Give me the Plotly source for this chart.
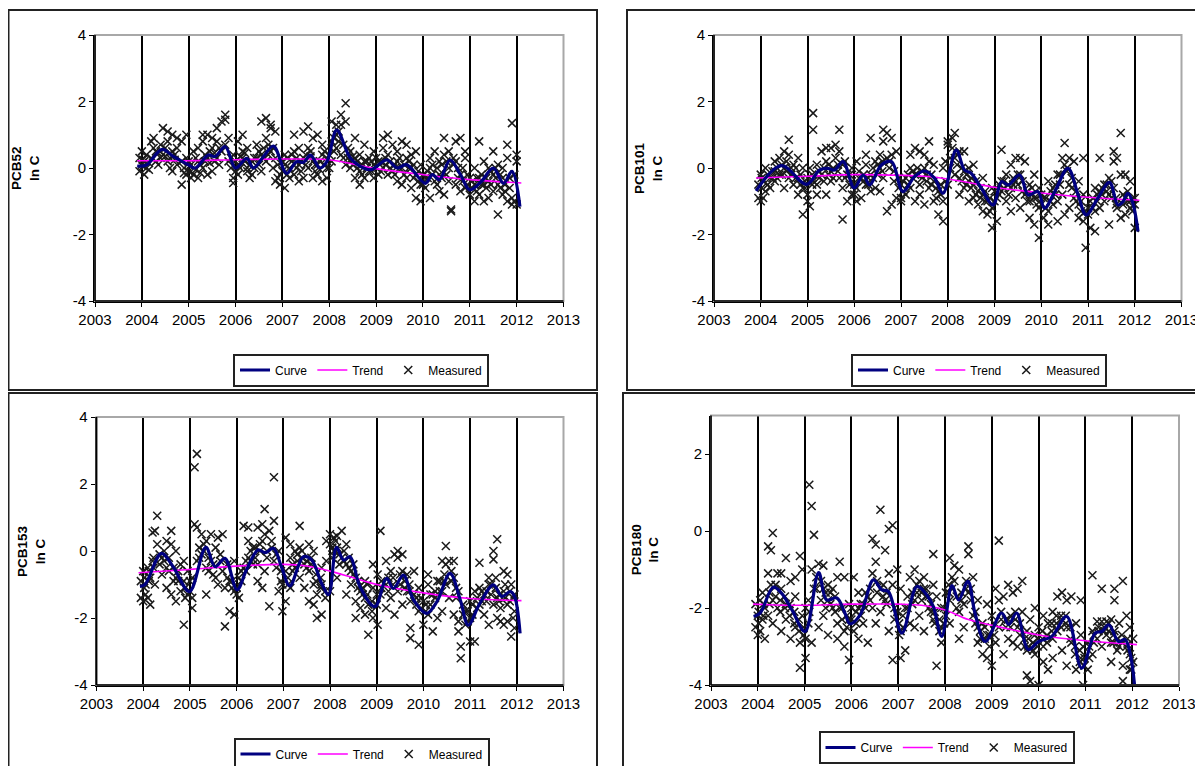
import plotly.graph_objects as go

W, H = 1203, 766

# ---------------- data ----------------
year_ticks = list(range(2003, 2014))
y_ticks = [[-4, -2, 0, 2, 4], [-4, -2, 0, 2, 4], [-4, -2, 0, 2, 4], [-4, -2, 0, 2]]

# PCB52
pcb52_curve_t = [2003.9, 2004.1, 2004.43, 2004.68, 2005.0, 2005.14, 2005.42, 2005.56, 2005.78, 2006.0,
                 2006.24, 2006.38, 2006.6, 2006.81, 2007.09, 2007.3, 2007.45, 2007.6, 2007.8, 2007.95,
                 2008.16, 2008.45, 2008.73, 2008.9, 2009.23, 2009.45, 2009.65, 2010.05, 2010.2, 2010.35,
                 2010.58, 2010.8, 2011.0, 2011.25, 2011.5, 2011.72, 2011.9, 2012.07]
pcb52_curve_v = [0.06, 0.09, 0.56, 0.34, 0.09, 0.0, 0.39, 0.34, 0.64, 0.0,
                 0.29, 0.0, 0.35, 0.66, -0.16, 0.19, 0.17, 0.39, 0.0, 0.19,
                 1.14, 0.3, 0.0, -0.05, 0.24, 0.0, 0.1, -0.46, -0.2, -0.35,
                 0.24, -0.2, -0.66, -0.4, 0.0, -0.46, -0.1, -1.16]
pcb52_trend_t = [2003.9, 2005.0, 2006.0, 2007.0, 2007.5, 2008.0, 2008.5, 2009.0, 2010.0, 2011.0, 2012.1]
pcb52_trend_v = [0.22, 0.22, 0.25, 0.27, 0.27, 0.25, 0.12, -0.02, -0.2, -0.35, -0.45]
pcb52_measured = [
    (2003.95, [0.3, -0.1]), (2004.0, [0.5, 0.1]), (2004.05, [-0.2, 0.2]), (2004.1, [0.4, 0.0]),
    (2004.2, [0.8, 0.3]), (2004.25, [0.9, 0.6]), (2004.3, [0.5, 0.2]), (2004.4, [0.7, 0.3]),
    (2004.45, [1.2, 0.4]), (2004.55, [1.1, 0.8, 0.2]), (2004.65, [1.0, 0.5, -0.1]),
    (2004.75, [0.9, 0.1, 0.6]), (2004.85, [-0.5, 0.2, 0.8]), (2004.95, [1.0, -0.2, 0.3]),
    (2005.05, [-0.3, 0.1, -0.1]), (2005.1, [0.5, -0.2]), (2005.2, [0.2, -0.3, 0.6]),
    (2005.3, [0.8, 0.0, 1.0]), (2005.4, [1.0, 0.3, -0.2]), (2005.5, [0.9, 0.6, -0.1]),
    (2005.6, [1.2, 0.3, 0.8]), (2005.7, [1.4, 0.5]), (2005.78, [1.6, 1.45, 0.7]),
    (2005.85, [0.2, 0.9]), (2005.95, [-0.45, -0.3, 0.4]), (2006.05, [0.8, 0.1, -0.2]),
    (2006.15, [1.0, 0.5, 0.3]), (2006.25, [0.0, 0.6, -0.1]), (2006.35, [0.2, -0.2]),
    (2006.45, [0.3, 0.7]), (2006.55, [-0.1, 0.4, 1.4]), (2006.65, [1.5, 0.9, 0.2]),
    (2006.75, [1.2, 1.3, 0.5]), (2006.85, [-0.4, 0.3, 1.1]), (2006.95, [-0.5, -0.2]),
    (2007.05, [-0.6, 0.1, 0.4]), (2007.15, [0.0, -0.3]), (2007.25, [0.5, -0.2, 1.0]),
    (2007.35, [0.1, -0.4, 0.6]), (2007.45, [1.1, 0.3, -0.3]), (2007.55, [1.25, 0.6, 0.0]),
    (2007.65, [0.9, 0.2, -0.3]), (2007.75, [1.0, 0.1, -0.2]), (2007.85, [0.4, -0.4, 0.7]),
    (2007.95, [0.0, 0.3, -0.3]), (2008.05, [1.4, 0.8, 0.2]), (2008.15, [1.3, 1.0, 0.6]),
    (2008.25, [1.6, 1.3, 0.4]), (2008.35, [1.95, 1.4, 0.1]), (2008.45, [0.5, 0.2, 0.0]),
    (2008.55, [0.9, 0.3, -0.3]), (2008.65, [0.4, -0.1, -0.5]), (2008.75, [0.7, 0.2, -0.3]),
    (2008.85, [0.3, -0.1]), (2008.95, [0.1, -0.3, 0.5]), (2009.05, [0.2, -0.2]),
    (2009.15, [0.6, 0.0, 0.9]), (2009.25, [1.0, 0.4, -0.2]), (2009.35, [0.7, -0.1]),
    (2009.45, [0.2, -0.4, 0.5]), (2009.55, [0.8, 0.0, -0.5]), (2009.65, [0.7, -0.3, 0.3]),
    (2009.75, [0.4, -0.6, 0.0]), (2009.85, [-0.9, -0.2, 0.5]), (2009.95, [-1.0, -0.5, 0.1]),
    (2010.05, [-0.6, -0.3]), (2010.15, [-0.9, 0.0, 0.3]), (2010.25, [-0.4, 0.5]),
    (2010.35, [-0.7, 0.2, -0.2]), (2010.45, [0.9, 0.4, -0.8]), (2010.55, [0.5, 0.0, -0.4]),
    (2010.6, [-1.3, -1.25]), (2010.7, [0.8, 0.2, -0.5]), (2010.8, [0.9, -0.2, -0.7]),
    (2010.9, [0.3, -0.6, 0.5]), (2011.0, [-0.8, -0.3]), (2011.1, [-0.5, 0.0, -1.0]),
    (2011.2, [0.8, -0.8, -0.3]), (2011.3, [-1.0, -0.5, 0.2]), (2011.4, [-0.9, 0.0, -0.4]),
    (2011.5, [0.5, -0.2, -0.7]), (2011.6, [-1.4, -0.5, 0.1]), (2011.7, [-0.8, 0.0, -0.3]),
    (2011.8, [0.7, -1.0, 0.3]), (2011.9, [1.35, -1.1, -0.9]), (2012.0, [0.4, 0.2, -1.1]),
]
pcb52_measured_more = [
    (2004.02, [0.05, 0.25]), (2004.15, [0.15, -0.05]), (2004.35, [0.45, 0.1]), (2004.5, [0.6, 0.35]),
    (2004.6, [0.3, 0.0]), (2004.7, [0.25, 0.4]), (2004.9, [0.0, -0.15]), (2005.0, [0.2, -0.1]),
    (2005.15, [-0.05, 0.3]), (2005.25, [0.1, -0.15]), (2005.35, [0.4, 0.2]), (2005.45, [0.5, 0.15]),
    (2005.55, [0.2, 0.45]), (2005.65, [0.6, 0.1]), (2005.9, [0.3, 0.0]), (2006.0, [0.2, -0.1]),
    (2006.1, [0.35, 0.0]), (2006.2, [0.2, 0.45]), (2006.3, [0.1, -0.3]), (2006.4, [0.0, 0.3]),
    (2006.5, [0.5, 0.1]), (2006.6, [0.3, 0.6]), (2006.7, [0.7, 0.4]), (2006.8, [0.6, 0.0]),
    (2006.9, [0.1, -0.3]), (2007.0, [-0.1, 0.2]), (2007.1, [-0.2, 0.3]), (2007.2, [0.2, 0.4]),
    (2007.3, [0.3, 0.0]), (2007.4, [0.2, -0.1]), (2007.5, [0.4, 0.1]), (2007.6, [0.5, 0.35]),
    (2007.7, [0.1, -0.1]), (2007.8, [0.2, -0.05]), (2007.9, [0.1, 0.5]), (2008.0, [0.4, 0.0]),
    (2008.1, [0.9, 0.5]), (2008.2, [0.8, 1.1]), (2008.3, [0.7, 0.3]), (2008.4, [0.6, 0.3]),
    (2008.5, [0.35, 0.1]), (2008.6, [0.2, 0.0]), (2008.7, [0.1, -0.2]), (2008.8, [0.0, 0.2]),
    (2008.9, [-0.1, 0.2]), (2009.0, [0.0, 0.3]), (2009.1, [0.2, -0.1]), (2009.2, [0.3, 0.1]),
    (2009.3, [0.2, 0.0]), (2009.4, [0.1, -0.2]), (2009.5, [0.0, 0.3]), (2009.6, [0.1, -0.2]),
    (2009.7, [0.0, 0.2]), (2009.8, [-0.3, 0.1]), (2009.9, [-0.4, -0.1]), (2010.0, [-0.2, -0.5]),
    (2010.1, [-0.3, -0.1]), (2010.2, [-0.2, 0.1]), (2010.3, [-0.5, 0.0]), (2010.4, [-0.3, 0.1]),
    (2010.5, [0.2, -0.2]), (2010.65, [0.1, 0.3]), (2010.75, [0.0, -0.3]), (2010.85, [-0.4, 0.0]),
    (2010.95, [-0.5, -0.2]), (2011.05, [-0.6, -0.4]), (2011.15, [-0.3, -0.7]), (2011.25, [-0.5, -0.2]),
    (2011.35, [-0.3, -0.6]), (2011.45, [-0.1, -0.5]), (2011.55, [-0.3, 0.0]), (2011.65, [-0.6, -0.2]),
    (2011.75, [-0.5, -0.7]), (2011.85, [-0.3, -0.6]), (2011.95, [-0.2, -1.0]),
]

# PCB101
pcb101_curve_t = [2003.9, 2004.44, 2004.98, 2005.26, 2005.43, 2005.58, 2005.76, 2006.0, 2006.19, 2006.33,
                  2006.58, 2006.8, 2007.04, 2007.29, 2007.5, 2007.72, 2007.9, 2008.18, 2008.36, 2008.5,
                  2008.72, 2008.97, 2009.15, 2009.29, 2009.54, 2009.72, 2009.93, 2010.07, 2010.29, 2010.57,
                  2010.79, 2010.96, 2011.21, 2011.46, 2011.64, 2011.75, 2011.85, 2011.95, 2012.07]
pcb101_curve_v = [-0.69, 0.07, -0.49, -0.06, -0.01, -0.06, 0.19, -0.6, -0.21, -0.51,
                  0.09, 0.19, -0.71, -0.26, -0.09, -0.31, -0.76, 0.54, -0.06, -0.16,
                  -0.61, -1.11, -0.41, -0.51, -0.21, -0.81, -0.71, -1.21, -0.71, -0.01,
                  -0.81, -1.41, -0.91, -0.43, -1.11, -1.01, -0.76, -1.01, -1.91]
pcb101_trend_t = [2003.9, 2005.0, 2006.0, 2007.0, 2007.5, 2008.0, 2008.5, 2009.0, 2010.0, 2011.0, 2012.1]
pcb101_trend_v = [-0.3, -0.25, -0.2, -0.22, -0.25, -0.33, -0.45, -0.58, -0.75, -0.88, -0.97]
pcb101_measured = [
    (2003.95, [-0.9, -0.5]), (2004.0, [-1.0, -0.2]), (2004.05, [-0.9, -0.4]), (2004.1, [-0.7, 0.0]),
    (2004.2, [-0.3, -0.6]), (2004.3, [0.2, -0.4, -0.1]), (2004.4, [0.3, -0.2]),
    (2004.5, [0.5, 0.0, -0.6]), (2004.6, [0.85, 0.4, -0.3]), (2004.7, [0.1, -0.5]),
    (2004.8, [-0.3, -0.8, 0.3]), (2004.9, [-1.4, -0.6, 0.0]), (2005.0, [-1.0, -0.3, -0.8]),
    (2005.05, [-1.15, 0.0]), (2005.12, [1.65, 1.15, -0.4]), (2005.2, [-0.8, 0.1, -0.5]),
    (2005.3, [0.5, -0.2]), (2005.4, [0.6, 0.2, -0.8]), (2005.5, [0.6, -0.1, -0.4]),
    (2005.6, [0.7, 0.3]), (2005.68, [1.15, 0.5, -0.3]), (2005.75, [-1.55, -0.6, 0.1]),
    (2005.85, [-0.2, -1.0]), (2005.95, [-0.8, -0.4, 0.0]), (2006.05, [-1.0, -0.6, 0.2]),
    (2006.15, [-0.9, -0.3]), (2006.25, [0.4, -0.5, 0.1]), (2006.35, [0.9, -0.2, -0.7]),
    (2006.45, [0.2, -0.6]), (2006.55, [0.4, -0.7, 0.0]), (2006.62, [1.15, 0.8, -0.3]),
    (2006.7, [1.05, -1.3, 0.3]), (2006.8, [0.9, -1.1, 0.4]), (2006.9, [0.5, -0.9]),
    (2007.0, [-1.0, -0.5, -0.9]), (2007.1, [-0.8, -0.3]), (2007.2, [0.0, -0.6, 0.4]),
    (2007.3, [0.6, -0.2, -1.0]), (2007.4, [0.5, -0.5, -0.8]), (2007.5, [0.4, 0.0, -1.1]),
    (2007.6, [0.8, 0.2, -0.6]), (2007.7, [-0.4, -1.0, 0.1]), (2007.8, [-1.4, -0.7]),
    (2007.9, [-1.6, 0.0, -1.0]), (2008.0, [0.8, 0.7, -0.5]), (2008.1, [0.9, 0.6]),
    (2008.15, [1.05, 0.3, -0.2]), (2008.25, [0.5, -0.3, -0.8]), (2008.35, [0.5, -0.1, -0.6]),
    (2008.45, [-0.4, -1.0, 0.0]), (2008.55, [-0.9, -0.5, 0.1]), (2008.65, [-1.1, -0.7]),
    (2008.75, [-0.8, -1.3, -0.3]), (2008.85, [-1.0, -1.4]), (2008.95, [-1.8, -0.6, -1.2]),
    (2009.05, [-1.6, -0.9]), (2009.15, [0.55, -0.4, -0.7]), (2009.25, [-0.2, -1.0]),
    (2009.35, [0.1, -0.6, -1.3]), (2009.45, [0.3, -0.4, -0.9]), (2009.55, [0.3, -0.2, -1.2]),
    (2009.65, [0.2, -0.8]), (2009.75, [-1.5, -0.5, -1.0]), (2009.85, [-1.7, -0.2, -0.9]),
    (2009.95, [-2.1, -1.2, -0.6]), (2010.05, [-0.9, -1.5]), (2010.15, [-1.3, -0.4, -1.7]),
    (2010.25, [-0.6, -1.1]), (2010.35, [-1.6, -0.2, -1.0]), (2010.45, [0.3, -0.8]),
    (2010.5, [0.75, -1.4, 0.1]), (2010.6, [0.3, -0.5, -1.2]), (2010.7, [0.2, -0.9]),
    (2010.8, [-1.5, -0.4, -1.1]), (2010.9, [0.3, -1.6, -0.8]), (2010.95, [-2.4, -1.3]),
    (2011.05, [-1.8, -1.0]), (2011.15, [-1.9, -0.6, -1.3]), (2011.25, [-0.7, -1.2, 0.3]),
    (2011.35, [-0.5, -1.0]), (2011.45, [-0.3, -1.7, -0.8]), (2011.55, [0.2, -0.6, 0.5]),
    (2011.62, [0.3, -1.2]), (2011.7, [1.05, -1.5, -0.2]), (2011.8, [-1.4, -0.2, -0.9]),
    (2011.9, [-1.0, -1.2, -0.4]), (2012.0, [-1.8, -1.1, -0.9]),
]
pcb101_measured_more = [
    (2004.02, [-0.6, -0.3]), (2004.15, [-0.5, -0.2]), (2004.25, [-0.1, -0.3]), (2004.35, [0.0, -0.3]),
    (2004.45, [0.1, -0.2]), (2004.55, [-0.1, 0.2]), (2004.65, [0.0, -0.2]), (2004.75, [-0.3, 0.0]),
    (2004.85, [-0.5, -0.2]), (2004.95, [-0.6, -0.4]), (2005.1, [-0.5, -0.2]), (2005.25, [-0.1, -0.3]),
    (2005.35, [0.0, -0.4]), (2005.45, [-0.2, 0.1]), (2005.55, [0.0, -0.3]), (2005.65, [0.1, -0.1]),
    (2005.8, [0.2, -0.3]), (2005.9, [-0.5, -0.2]), (2006.0, [-0.5, -0.8]), (2006.1, [-0.3, -0.1]),
    (2006.2, [-0.2, -0.4]), (2006.3, [-0.5, -0.3]), (2006.4, [-0.3, 0.0]), (2006.5, [0.1, -0.2]),
    (2006.6, [0.2, -0.1]), (2006.75, [0.2, 0.0]), (2006.85, [-0.1, -0.4]), (2006.95, [-0.6, -0.3]),
    (2007.05, [-0.7, -0.4]), (2007.15, [-0.5, -0.2]), (2007.25, [-0.3, -0.1]), (2007.35, [-0.2, 0.0]),
    (2007.45, [-0.1, -0.3]), (2007.55, [-0.2, -0.4]), (2007.65, [-0.5, -0.2]), (2007.75, [-0.6, -0.9]),
    (2007.85, [-0.5, -0.8]), (2007.95, [-0.4, 0.2]), (2008.05, [0.3, 0.0]), (2008.2, [0.4, 0.1]),
    (2008.3, [0.0, -0.4]), (2008.4, [-0.2, -0.5]), (2008.5, [-0.3, -0.6]), (2008.6, [-0.4, -0.8]),
    (2008.7, [-0.6, -0.9]), (2008.8, [-0.7, -1.0]), (2008.9, [-0.9, -1.3]), (2009.0, [-1.0, -0.7]),
    (2009.1, [-0.5, -0.8]), (2009.2, [-0.4, -0.6]), (2009.3, [-0.5, -0.8]), (2009.4, [-0.3, -0.5]),
    (2009.5, [-0.2, -0.5]), (2009.6, [-0.4, -0.7]), (2009.7, [-0.7, -1.0]), (2009.8, [-0.8, -0.6]),
    (2009.9, [-0.9, -1.1]), (2010.0, [-1.1, -0.8]), (2010.1, [-1.2, -0.9]), (2010.2, [-1.0, -0.7]),
    (2010.3, [-0.8, -0.5]), (2010.4, [-0.5, -0.2]), (2010.55, [-0.1, 0.0]), (2010.65, [-0.3, -0.6]),
    (2010.75, [-0.7, -1.0]), (2010.85, [-1.0, -1.3]), (2011.0, [-1.4, -1.2]), (2011.1, [-1.2, -0.9]),
    (2011.2, [-1.0, -0.8]), (2011.3, [-0.8, -0.6]), (2011.4, [-0.5, -0.7]), (2011.5, [-0.4, -0.9]),
    (2011.6, [-0.9, -1.1]), (2011.75, [-1.1, -0.8]), (2011.85, [-0.7, -1.0]), (2011.95, [-0.9, -1.3]),
]

# PCB153
pcb153_curve_t = [2003.93, 2004.04, 2004.39, 2004.64, 2004.99, 2005.34, 2005.54, 2005.75, 2006.01, 2006.21,
                  2006.46, 2006.61, 2006.79, 2006.96, 2007.14, 2007.43, 2007.61, 2007.82, 2007.97, 2008.14,
                  2008.29, 2008.43, 2008.64, 2008.96, 2009.21, 2009.36, 2009.57, 2009.79, 2010.07, 2010.29,
                  2010.57, 2010.79, 2010.96, 2011.21, 2011.5, 2011.68, 2011.86, 2011.95, 2012.07]
pcb153_curve_v = [-1.06, -1.0, -0.07, -0.47, -1.21, 0.11, -0.47, -0.22, -1.16, -0.57,
                  0.03, -0.05, 0.08, -0.47, -1.04, -0.17, -0.27, -0.96, -1.3, 0.11,
                  -0.27, -0.17, -1.06, -1.66, -0.82, -1.12, -0.72, -1.46, -1.86, -1.51,
                  -0.67, -1.46, -2.21, -1.56, -1.01, -1.36, -1.21, -1.35, -2.46]
pcb153_trend_t = [2003.9, 2005.0, 2006.0, 2007.0, 2007.5, 2008.0, 2008.5, 2009.0, 2010.0, 2011.0, 2012.1]
pcb153_trend_v = [-0.65, -0.55, -0.45, -0.4, -0.45, -0.6, -0.8, -1.0, -1.25, -1.42, -1.48]
pcb153_measured = [
    (2003.95, [-1.4, -0.9]), (2004.0, [-1.5, -0.6]), (2004.05, [-1.0, -1.3]), (2004.1, [-0.5, -1.4]),
    (2004.15, [-1.6, -0.8]), (2004.2, [0.55, -0.3]), (2004.25, [0.6, -1.0]), (2004.3, [1.05, 0.2]),
    (2004.4, [-0.2, -0.7]), (2004.5, [0.3, -0.5, -1.1]), (2004.6, [0.6, 0.2, -1.3]),
    (2004.7, [-0.8, -1.5, 0.0]), (2004.8, [-0.4, -1.2]), (2004.87, [-2.2, -0.9, -0.3]),
    (2004.95, [-1.3, -0.6]), (2005.05, [-1.7, -1.4, -0.8]), (2005.1, [2.5, 0.8]),
    (2005.15, [2.9, 0.7, -0.3]), (2005.25, [0.5, -0.1]), (2005.35, [-0.5, 0.3, -1.3]),
    (2005.45, [-0.3, 0.5]), (2005.55, [0.1, -0.8]), (2005.6, [0.4, -1.0]), (2005.7, [0.5, -0.6]),
    (2005.75, [-2.25, -1.1]), (2005.85, [-0.9, -1.8]), (2005.95, [-1.9, -1.2, -0.3]),
    (2006.05, [-1.4, -0.8]), (2006.15, [0.75, -0.5]), (2006.25, [0.7, 0.3, -0.2]),
    (2006.35, [-0.4, 0.1]), (2006.45, [0.7, -0.9, -0.4]), (2006.55, [0.8, -1.1, 0.3]),
    (2006.6, [1.25, 0.5, -0.6]), (2006.7, [0.6, -1.65]), (2006.8, [2.2, 0.9, -0.3]),
    (2006.9, [0.0, -1.2]), (2006.98, [-1.8, -1.0]), (2007.05, [-1.5, 0.4, -0.6]),
    (2007.15, [0.2, -0.2, -1.1]), (2007.25, [0.0, -0.5]), (2007.35, [0.75, 0.1, -0.8]),
    (2007.45, [-1.1, -0.4]), (2007.55, [0.2, -1.5, -0.6]), (2007.65, [-1.6, 0.0, -1.0]),
    (2007.72, [-2.0, -1.3]), (2007.82, [-1.9, -0.5, -1.0]), (2007.92, [0.3, -0.3]),
    (2008.0, [0.5, 0.2, -1.2]), (2008.08, [0.4, 0.0]), (2008.15, [0.45, -0.8, 0.1]),
    (2008.25, [0.6, -0.2]), (2008.35, [-0.4, -1.3, 0.2]), (2008.45, [-1.0, -0.6]),
    (2008.55, [-1.5, -0.8, -2.0]), (2008.65, [-1.2, -1.7]), (2008.75, [-1.9, -0.9, -1.4]),
    (2008.82, [-2.5, -1.6]), (2008.92, [-0.4, -2.0, -1.1]), (2009.02, [-2.2, -0.7]),
    (2009.08, [0.6, -1.3]), (2009.2, [-0.3, -1.0, -1.7]), (2009.3, [-1.4, -0.6]),
    (2009.38, [-0.1, -1.9]), (2009.45, [0.0, -0.2, -1.2]), (2009.55, [-0.1, -1.6, -0.6]),
    (2009.65, [-0.7, -1.2]), (2009.72, [-2.3, -1.5, -2.6]), (2009.8, [-0.6, -1.3]),
    (2009.9, [-2.8, -1.8, -1.1]), (2010.0, [-1.5, -2.2]), (2010.1, [-0.7, -1.9, -1.0]),
    (2010.2, [-2.4, -1.3]), (2010.3, [-2.0, -0.9]), (2010.4, [-0.3, -1.2, -1.8]),
    (2010.48, [0.15, -0.4, -1.0]), (2010.55, [-0.3, -1.4]), (2010.65, [-0.3, -1.9, -0.8]),
    (2010.75, [-2.4, -1.2, -2.1]), (2010.8, [-3.2, -2.85]), (2010.9, [-1.8, -2.2]),
    (2011.0, [-2.7, -2.0, -1.5]), (2011.1, [-2.7, -1.2]), (2011.2, [-0.35, -1.6, -1.1]),
    (2011.3, [-1.3, -1.9]), (2011.4, [-2.2, -1.0, -0.8]), (2011.5, [0.0, -0.25, -1.6]),
    (2011.58, [0.35, -1.4, -2.0]), (2011.65, [-2.1, -1.7]), (2011.72, [-0.6, -1.2, -2.2]),
    (2011.8, [-0.7, -1.6, -2.1]), (2011.88, [-2.55, -1.0]), (2011.95, [-1.3, -1.8, -2.3]),
]
pcb153_measured_more = [
    (2004.02, [-1.1, -0.8]), (2004.12, [-0.9, -0.6]), (2004.22, [-0.5, -0.2]), (2004.35, [-0.1, -0.4]),
    (2004.45, [0.0, -0.3]), (2004.55, [-0.2, -0.6]), (2004.65, [-0.5, -0.9]), (2004.75, [-0.9, -0.6]),
    (2004.9, [-1.1, -1.4]), (2005.0, [-1.2, -0.9]), (2005.2, [-0.2, 0.1]), (2005.3, [0.0, 0.2]),
    (2005.4, [-0.2, -0.6]), (2005.5, [-0.4, -0.7]), (2005.65, [-0.3, -0.1]), (2005.8, [-0.4, -0.8]),
    (2005.9, [-0.9, -1.1]), (2006.0, [-1.1, -1.3]), (2006.1, [-0.9, -0.6]), (2006.2, [-0.6, -0.3]),
    (2006.3, [-0.3, 0.0]), (2006.4, [0.1, -0.2]), (2006.5, [0.0, 0.2]), (2006.65, [0.0, -0.2]),
    (2006.75, [0.1, 0.3]), (2006.85, [-0.1, -0.5]), (2006.95, [-0.6, -0.9]), (2007.1, [-1.0, -0.8]),
    (2007.2, [-0.6, -0.4]), (2007.3, [-0.3, -0.1]), (2007.4, [-0.2, 0.0]), (2007.5, [-0.3, -0.5]),
    (2007.6, [-0.4, -0.2]), (2007.7, [-0.7, -0.9]), (2007.8, [-1.1, -0.8]), (2007.9, [-1.2, -1.4]),
    (2008.05, [-0.2, 0.1]), (2008.12, [0.0, 0.3]), (2008.2, [-0.1, -0.4]), (2008.3, [-0.3, 0.0]),
    (2008.4, [-0.2, -0.5]), (2008.5, [-0.4, -0.7]), (2008.6, [-0.9, -1.1]), (2008.7, [-1.1, -1.3]),
    (2008.8, [-1.3, -1.0]), (2008.9, [-1.5, -1.8]), (2009.0, [-1.6, -1.3]), (2009.1, [-1.1, -0.9]),
    (2009.25, [-0.8, -1.2]), (2009.35, [-1.0, -0.8]), (2009.5, [-0.7, -1.0]), (2009.6, [-0.9, -1.1]),
    (2009.7, [-1.2, -1.0]), (2009.85, [-1.4, -1.6]), (2009.95, [-1.7, -1.4]), (2010.05, [-1.8, -1.6]),
    (2010.15, [-1.6, -1.3]), (2010.25, [-1.4, -1.2]), (2010.35, [-1.2, -0.9]), (2010.45, [-0.9, -0.7]),
    (2010.6, [-0.6, -0.9]), (2010.7, [-1.1, -1.4]), (2010.85, [-1.6, -1.9]), (2010.95, [-2.1, -1.8]),
    (2011.05, [-1.9, -1.6]), (2011.15, [-1.7, -1.4]), (2011.25, [-1.5, -1.2]), (2011.35, [-1.2, -1.5]),
    (2011.45, [-1.0, -1.3]), (2011.55, [-1.1, -0.8]), (2011.62, [-1.3, -1.5]), (2011.75, [-1.4, -1.0]),
    (2011.85, [-1.2, -1.5]), (2011.92, [-1.4, -2.0]),
]

# PCB180
pcb180_curve_t = [2003.91, 2004.05, 2004.33, 2004.51, 2004.73, 2005.01, 2005.3, 2005.47, 2005.69, 2005.86,
                  2005.97, 2006.19, 2006.47, 2006.65, 2006.79, 2007.08, 2007.4, 2007.61, 2007.75, 2007.93,
                  2008.15, 2008.29, 2008.49, 2008.64, 2008.86, 2009.21, 2009.36, 2009.53, 2009.78, 2010.0,
                  2010.28, 2010.6, 2010.92, 2011.21, 2011.35, 2011.5, 2011.71, 2011.85, 2011.96, 2012.05]
pcb180_curve_v = [-2.22, -2.13, -1.46, -1.62, -2.05, -2.61, -1.08, -1.79, -1.74, -2.13,
                  -2.41, -2.17, -1.27, -1.53, -1.57, -2.65, -1.44, -1.66, -1.96, -2.74,
                  -1.42, -1.79, -1.31, -2.13, -2.87, -2.13, -2.43, -2.13, -3.08, -2.87,
                  -2.74, -2.22, -3.56, -2.65, -2.61, -2.44, -2.87, -2.82, -3.2, -4.0]
pcb180_trend_t = [2003.9, 2005.0, 2006.0, 2007.0, 2007.5, 2008.0, 2008.5, 2009.0, 2010.0, 2011.0, 2012.1]
pcb180_trend_v = [-1.9, -1.93, -1.9, -1.9, -1.93, -2.05, -2.3, -2.45, -2.7, -2.85, -2.95]
pcb180_measured = [
    (2003.95, [-2.5, -1.9]), (2004.0, [-2.7, -2.2]), (2004.05, [-1.8, -2.6]), (2004.1, [-2.3, -1.6]),
    (2004.15, [-2.8, -2.0]), (2004.22, [-0.4, -1.1, -2.2]), (2004.28, [-0.5, -1.4]),
    (2004.32, [-0.05, -1.8, -2.4]), (2004.42, [-1.1, -2.0]), (2004.5, [-1.5, -2.6, -1.1]),
    (2004.6, [-0.7, -2.3, -1.9]), (2004.7, [-2.0, -2.8, -1.3]), (2004.8, [-1.7, -2.5, -1.2]),
    (2004.9, [-3.55, -0.65, -2.9]), (2004.95, [-1.0, -2.2]), (2005.02, [-3.3, -2.8, -2.0]),
    (2005.1, [1.2, -2.1]), (2005.15, [0.65, -1.0, -2.9]), (2005.2, [-0.1, -1.5]),
    (2005.3, [-0.85, -2.5]), (2005.4, [-0.9, -2.2, -1.5]), (2005.5, [-1.4, -2.7, -1.8]),
    (2005.6, [-2.0, -1.5]), (2005.7, [-2.8, -1.2, -2.4]), (2005.75, [-0.8, -2.0]),
    (2005.85, [-1.2, -2.6, -3.0]), (2005.95, [-3.35, -2.3, -1.9]), (2006.05, [-2.6, -1.2]),
    (2006.15, [-2.0, -2.8, -1.6]), (2006.25, [-2.4, -1.9]), (2006.35, [-2.9, -1.7]),
    (2006.45, [-0.2, -1.1, -2.0]), (2006.52, [-0.35, -0.8, -2.4]), (2006.62, [0.55, -1.5, -2.1]),
    (2006.72, [-0.5, -1.8]), (2006.8, [0.05, -1.1, -2.6]), (2006.88, [0.15, -3.35, -1.4]),
    (2006.98, [-1.0, -2.1]), (2007.05, [-3.3, -1.5, -2.6]), (2007.15, [-3.1, -2.0]),
    (2007.25, [-2.4, -1.2]), (2007.35, [-1.0, -1.8, -2.5]), (2007.45, [-1.3, -2.2]),
    (2007.55, [-1.5, -2.6, -1.2]), (2007.65, [-1.7, -2.0]), (2007.75, [-0.6, -2.3, -1.4]),
    (2007.82, [-3.5, -1.7]), (2007.92, [-2.9, -2.0, -2.5]), (2008.02, [-2.2, -1.6]),
    (2008.1, [-0.7, -1.8, -2.4]), (2008.2, [-0.9, -1.3]), (2008.3, [-2.8, -1.0, -2.1]),
    (2008.4, [-1.9, -2.5]), (2008.5, [-0.6, -0.4, -1.6]), (2008.6, [-1.2, -2.2]),
    (2008.7, [-2.9, -1.8, -2.5]), (2008.8, [-3.2, -2.4]), (2008.9, [-3.3, -2.7, -1.9]),
    (2009.0, [-3.5, -2.2]), (2009.08, [-1.5, -2.9]), (2009.15, [-0.25, -1.8, -2.5]),
    (2009.25, [-1.7, -3.2]), (2009.35, [-1.4, -2.3, -2.8]), (2009.45, [-1.6, -2.9]),
    (2009.55, [-1.5, -2.5, -3.0]), (2009.65, [-1.3, -2.1]), (2009.75, [-3.75, -2.6, -3.1]),
    (2009.82, [-3.9, -2.3]), (2009.92, [-2.7, -3.2, -2.0]), (2010.0, [-4.0, -2.5]),
    (2010.1, [-3.4, -2.2, -3.0]), (2010.2, [-2.4, -3.6]), (2010.3, [-2.1, -3.3, -2.8]),
    (2010.4, [-1.7, -2.6]), (2010.5, [-1.6, -3.1, -2.3]), (2010.6, [-1.8, -2.5, -3.5]),
    (2010.7, [-1.7, -2.9]), (2010.8, [-3.6, -2.4]), (2010.9, [-1.8, -3.3, -2.7]),
    (2010.95, [-4.0, -3.0]), (2011.05, [-2.9, -3.6]), (2011.15, [-1.15, -2.6, -3.2]),
    (2011.25, [-2.35, -2.8]), (2011.35, [-1.5, -2.35, -3.0]), (2011.45, [-2.35, -2.7]),
    (2011.55, [-2.3, -3.4, -2.9]), (2011.62, [-1.8, -1.5, -2.6]), (2011.72, [-3.0, -2.4]),
    (2011.8, [-1.3, -3.9, -3.5]), (2011.88, [-2.2, -3.0]), (2011.95, [-2.5, -3.6, -3.2]),
    (2012.02, [-2.8, -3.4]),
]
pcb180_measured_more = [
    (2004.02, [-2.1, -2.4]), (2004.12, [-1.9, -2.2]), (2004.25, [-1.6, -1.9]), (2004.38, [-1.4, -1.7]),
    (2004.48, [-1.8, -2.1]), (2004.58, [-1.7, -2.0]), (2004.68, [-1.9, -2.2]), (2004.78, [-2.1, -2.4]),
    (2004.88, [-2.3, -2.6]), (2004.98, [-2.5, -2.7]), (2005.08, [-2.4, -1.8]), (2005.25, [-1.2, -1.5]),
    (2005.35, [-1.3, -1.8]), (2005.45, [-1.6, -2.0]), (2005.55, [-1.9, -1.6]), (2005.65, [-1.7, -2.1]),
    (2005.8, [-2.0, -2.3]), (2005.9, [-2.2, -2.5]), (2006.0, [-2.3, -2.0]), (2006.1, [-2.1, -2.4]),
    (2006.2, [-2.2, -1.9]), (2006.3, [-2.0, -1.6]), (2006.4, [-1.5, -1.8]), (2006.55, [-1.3, -1.6]),
    (2006.68, [-1.4, -1.7]), (2006.75, [-1.6, -1.9]), (2006.92, [-2.0, -2.3]), (2007.02, [-2.4, -2.7]),
    (2007.1, [-2.5, -2.2]), (2007.2, [-2.0, -1.7]), (2007.3, [-1.6, -1.9]), (2007.4, [-1.4, -1.6]),
    (2007.5, [-1.6, -1.8]), (2007.6, [-1.7, -1.5]), (2007.7, [-1.9, -2.1]), (2007.78, [-2.1, -2.4]),
    (2007.88, [-2.6, -2.3]), (2007.98, [-2.4, -2.0]), (2008.08, [-1.6, -1.4]), (2008.15, [-1.5, -1.2]),
    (2008.25, [-1.7, -2.0]), (2008.35, [-1.6, -1.8]), (2008.45, [-1.3, -1.5]), (2008.55, [-1.5, -1.8]),
    (2008.65, [-2.1, -2.4]), (2008.75, [-2.6, -2.8]), (2008.85, [-2.8, -2.5]), (2008.95, [-2.7, -3.0]),
    (2009.05, [-2.4, -2.7]), (2009.2, [-2.1, -2.3]), (2009.3, [-2.3, -2.5]), (2009.4, [-2.2, -2.5]),
    (2009.5, [-2.1, -2.3]), (2009.6, [-2.4, -2.7]), (2009.7, [-2.8, -3.0]), (2009.78, [-3.0, -2.8]),
    (2009.88, [-2.9, -3.1]), (2009.98, [-2.8, -3.0]), (2010.08, [-2.8, -2.6]), (2010.18, [-2.7, -2.9]),
    (2010.28, [-2.6, -2.4]), (2010.38, [-2.4, -2.2]), (2010.48, [-2.2, -2.5]), (2010.58, [-2.2, -2.4]),
    (2010.68, [-2.5, -2.8]), (2010.78, [-3.0, -3.2]), (2010.88, [-3.4, -3.1]), (2010.98, [-3.5, -3.3]),
    (2011.08, [-3.0, -3.3]), (2011.18, [-2.7, -2.9]), (2011.28, [-2.6, -2.5]), (2011.4, [-2.5, -2.6]),
    (2011.5, [-2.4, -2.6]), (2011.6, [-2.7, -2.9]), (2011.68, [-2.8, -3.1]), (2011.78, [-2.9, -2.7]),
    (2011.9, [-2.8, -3.1]), (2011.98, [-3.3, -3.6]),
]

titles = ["PCB52", "PCB101", "PCB153", "PCB180"]
y_ranges = [[-4, 4], [-4, 4], [-4, 4], [-4, 3]]

# ---------------- layout geometry ----------------
# target pixel positions in the final picture -> paper fractions
OX, OY = 8.0, 8.0


def fx(x):
    return (x - OX) / W


def fy(y):
    return 1 - (y - OY) / H


panels = [
    dict(plot=(95, 563.5, 35, 301), frame=(8.5, 597, 10, 390), legend=(361, 370), title_x=26),
    dict(plot=(714, 1181.5, 35, 301), frame=(627, 1211, 10, 390), legend=(979, 370), title_x=649),
    dict(plot=(96.5, 563.5, 417, 685), frame=(8.5, 597, 393, 790), legend=(361.5, 754), title_x=31),
    dict(plot=(711, 1179, 415.5, 685), frame=(623, 1211, 393, 790), legend=(946.5, 747.5), title_x=645),
]

datasets = [
    (pcb52_curve_t, pcb52_curve_v, pcb52_trend_t, pcb52_trend_v, pcb52_measured + pcb52_measured_more),
    (pcb101_curve_t, pcb101_curve_v, pcb101_trend_t, pcb101_trend_v, pcb101_measured + pcb101_measured_more),
    (pcb153_curve_t, pcb153_curve_v, pcb153_trend_t, pcb153_trend_v, pcb153_measured + pcb153_measured_more),
    (pcb180_curve_t, pcb180_curve_v, pcb180_trend_t, pcb180_trend_v, pcb180_measured + pcb180_measured_more),
]

FONT = "Liberation Sans, Arial, sans-serif"
fig = go.Figure()
shapes = []
annotations = []

for i, (p, d) in enumerate(zip(panels, datasets)):
    n = "" if i == 0 else str(i + 1)
    xa, ya = "x" + n, "y" + n
    leg = "legend" + n
    ct, cv, tt, tv, meas = d
    mx = [t for t, vs in meas for _ in vs]
    my = [v for t, vs in meas for v in vs]

    fig.add_trace(go.Scatter(x=mx, y=my, mode="markers", name="Measured",
                             marker=dict(symbol="x-thin-open", size=8, color="#1a1a1a",
                                         line=dict(width=1.5, color="#1a1a1a")),
                             xaxis=xa, yaxis=ya, legend=leg, legendrank=3))
    fig.add_trace(go.Scatter(x=tt, y=tv, mode="lines", name="Trend",
                             line=dict(color="#FF00FF", width=1.6, shape="spline"),
                             xaxis=xa, yaxis=ya, legend=leg, legendrank=2))
    fig.add_trace(go.Scatter(x=ct, y=cv, mode="lines", name="Curve",
                             line=dict(color="#000080", width=3.2, shape="spline", smoothing=1.0),
                             xaxis=xa, yaxis=ya, legend=leg, legendrank=1))

    x0, x1, y0, y1 = p["plot"]
    fig.layout["xaxis" + n] = dict(
        domain=[fx(x0), fx(x1)], range=[2003, 2013], anchor=ya,
        tickmode="array", tickvals=year_ticks, ticktext=[str(v) for v in year_ticks],
        showgrid=True, gridcolor="#000", gridwidth=1.6,
        showline=True, linecolor="#000", linewidth=1.6,
        ticks="outside", ticklen=4, tickcolor="#000", tickwidth=1.3,
        tickfont=dict(family=FONT, size=15, color="#000"),
        zeroline=False, fixedrange=True, automargin=False,
    )
    fig.layout["yaxis" + n] = dict(
        domain=[fy(y1), fy(y0)], range=y_ranges[i], anchor=xa,
        tickmode="array", tickvals=y_ticks[i], ticktext=["%d" % v for v in y_ticks[i]],
        showgrid=False, showline=True, linecolor="#000", linewidth=1.6,
        ticks="outside", ticklen=4, tickcolor="#000", tickwidth=1.3,
        tickfont=dict(family=FONT, size=15, color="#000"),
        zeroline=False, fixedrange=True, automargin=False,
    )
    # plot area border (grey top/right), left/bottom redrawn black
    shapes.append(dict(type="rect", xref=xa + " domain", yref=ya + " domain",
                       x0=0, x1=1, y0=0, y1=1, line=dict(color="#A8A8A8", width=2),
                       layer="above"))
    shapes.append(dict(type="line", xref=xa + " domain", yref=ya + " domain",
                       x0=0, x1=0, y0=0, y1=1, line=dict(color="#000", width=1.6), layer="above"))
    shapes.append(dict(type="line", xref=xa + " domain", yref=ya + " domain",
                       x0=0, x1=1, y0=0, y1=0, line=dict(color="#000", width=1.6), layer="above"))
    # outer chart frame
    fx0, fx1, fy0, fy1 = p["frame"]
    shapes.append(dict(type="rect", xref="paper", yref="paper",
                       x0=fx(fx0), x1=fx(fx1), y0=fy(fy1), y1=fy(fy0),
                       line=dict(color="#222", width=2), layer="below"))
    annotations.append(dict(text="<b>%s<br>ln C</b>" % titles[i], xref="paper", yref="paper",
                            x=fx(p["title_x"]), y=fy((y0 + y1) / 2), textangle=-90,
                            showarrow=False, xanchor="center", yanchor="middle",
                            font=dict(family=FONT, size=13.5, color="#000")))
    lx, ly = p["legend"]
    fig.layout[leg] = dict(
        x=fx(lx), y=fy(ly), xanchor="center", yanchor="middle", orientation="h",
        bordercolor="#222", borderwidth=2, bgcolor="white",
        font=dict(family=FONT, size=12, color="#000"),
        itemwidth=30, tracegroupgap=0, itemclick=False, itemdoubleclick=False,
    )

fig.update_layout(
    width=W, height=H, margin=dict(l=0, r=0, t=0, b=0, autoexpand=False),
    paper_bgcolor="white", plot_bgcolor="white",
    shapes=shapes, annotations=annotations, showlegend=True,
)
fig.write_html("out.html")
